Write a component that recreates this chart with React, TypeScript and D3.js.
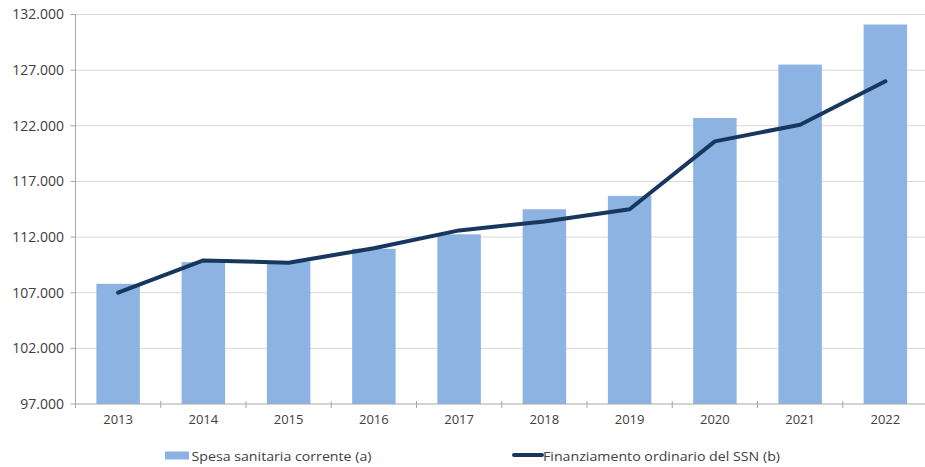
import React from "react";
import * as d3 from "d3";

const years = ["2013", "2014", "2015", "2016", "2017", "2018", "2019", "2020", "2021", "2022"];
const spesa = [107800, 109750, 109800, 110950, 112250, 114500, 115700, 122700, 127500, 131100];
const finanziamento = [107000, 109900, 109700, 111000, 112600, 113400, 114500, 120600, 122100, 126000];
const yTicks = [97000, 102000, 107000, 112000, 117000, 122000, 127000, 132000];
const legendLabels = ["Spesa sanitaria corrente (a)", "Finanziamento ordinario del SSN (b)"];

const W = 925;
const H = 467;
const BAR = "#8db3e2";
const LINE = "#17375e";
const GRID = "#d9d9d9";
const AXIS = "#a6a6a6";
const TEXT = "#404040";
const FONT = "'Open Sans', 'Noto Sans', sans-serif";

const locale = d3.formatLocale({ decimal: ",", thousands: ".", grouping: [3], currency: ["", "€"] });
const fmt = locale.format(",");

export default function App() {
  const x = d3.scaleBand<string>().domain(years).range([75.5, 928]).paddingInner(0.49).paddingOuter(0.245);
  const y = d3.scaleLinear().domain([97000, 132000]).range([404, 14.5]);
  const step = x.step();
  const cx = (yr: string) => (x(yr) as number) + x.bandwidth() / 2;
  const lineGen = d3
    .line<number>()
    .x((_, i) => cx(years[i]))
    .y((d) => y(d));
  const left = 75.5;
  const right = 928;
  const boundaries = d3.range(years.length + 1).map((i) => left + i * step);

  return (
    <svg
      width={W}
      height={H}
      style={{ position: "absolute", left: 0, top: 0, background: "#fff" }}
      fontFamily={FONT}
    >
      {/* gridlines */}
      {yTicks.slice(1).map((t) => (
        <line key={"g" + t} x1={left} x2={right} y1={y(t)} y2={y(t)} stroke={GRID} strokeWidth={1} />
      ))}
      {/* y axis */}
      <line x1={left} x2={left} y1={y(132000)} y2={y(97000)} stroke={AXIS} strokeWidth={1} />
      {yTicks.map((t) => (
        <g key={"yt" + t}>
          <line x1={left - 5} x2={left} y1={y(t)} y2={y(t)} stroke={AXIS} strokeWidth={1} />
          <text x={64} y={y(t)} dy="0.35em" textAnchor="end" fontSize={14} fill={TEXT}>
            {fmt(t)}
          </text>
        </g>
      ))}
      {/* bars */}
      {spesa.map((v, i) => (
        <rect
          key={"b" + i}
          x={x(years[i])}
          y={y(v)}
          width={x.bandwidth()}
          height={y(97000) - y(v)}
          fill={BAR}
        />
      ))}
      {/* x axis */}
      <line x1={left} x2={right} y1={y(97000)} y2={y(97000)} stroke={AXIS} strokeWidth={1} />
      {boundaries.map((b, i) => (
        <line key={"xt" + i} x1={b} x2={b} y1={y(97000) - 3} y2={y(97000) + 4} stroke={AXIS} strokeWidth={1} />
      ))}
      {years.map((yr) => (
        <text key={"xl" + yr} x={cx(yr)} y={424} textAnchor="middle" fontSize={13} fill={TEXT}>
          {yr}
        </text>
      ))}
      {/* line */}
      <path
        d={lineGen(finanziamento) || ""}
        fill="none"
        stroke={LINE}
        strokeWidth={4}
        strokeLinejoin="round"
        strokeLinecap="round"
      />
      {/* legend */}
      <rect x={165} y={451.5} width={24} height={8} fill={BAR} />
      <text x={191.5} y={456} dy="0.35em" fontSize={13} fill={TEXT} textLength={180} lengthAdjust="spacingAndGlyphs">
        {legendLabels[0]}
      </text>
      <line x1={514} x2={542} y1={455} y2={455} stroke={LINE} strokeWidth={4} strokeLinecap="round" />
      <text x={543} y={456} dy="0.35em" fontSize={13} fill={TEXT} textLength={237} lengthAdjust="spacingAndGlyphs">
        {legendLabels[1]}
      </text>
    </svg>
  );
}
